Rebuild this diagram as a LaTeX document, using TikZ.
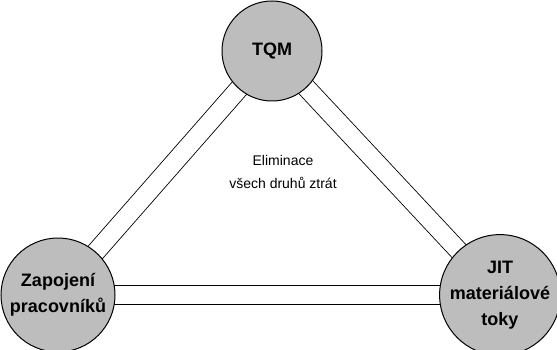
\documentclass[tikz,border=0pt]{standalone}
\usepackage{fontspec}
\setmainfont{Liberation Sans}
\usetikzlibrary{backgrounds}
\begin{document}
\begin{tikzpicture}[x=1pt,y=-1pt,
  pillar/.style={circle, draw=black, line width=1pt, fill=black!26,
    inner sep=0pt, align=center, font=\fontsize{18}{26}\selectfont\bfseries},
  link/.style={line width=0.85pt, double=white, double distance=18pt}]
  \useasboundingbox (0,0) rectangle (557,350);
  \node[pillar, minimum size=100pt] (tqm) at (272,51) {TQM};
  \node[pillar, minimum size=114pt] (lid) at (58,295) {Zapojení\\pracovníků};
  \node[pillar, minimum size=114pt] (jit) at (500,295) {JIT\\materiálové\\toky};
  \begin{scope}[on background layer]
    \draw[link] (tqm.center) -- (lid.center);
    \draw[link] (tqm.center) -- (jit.center);
    \draw[link] (lid.center) -- (jit.center);
  \end{scope}
  \node[align=center, font=\fontsize{14}{23}\selectfont] (goal) at (283,172)
    {Eliminace\\všech druhů ztrát};
\end{tikzpicture}
\end{document}
